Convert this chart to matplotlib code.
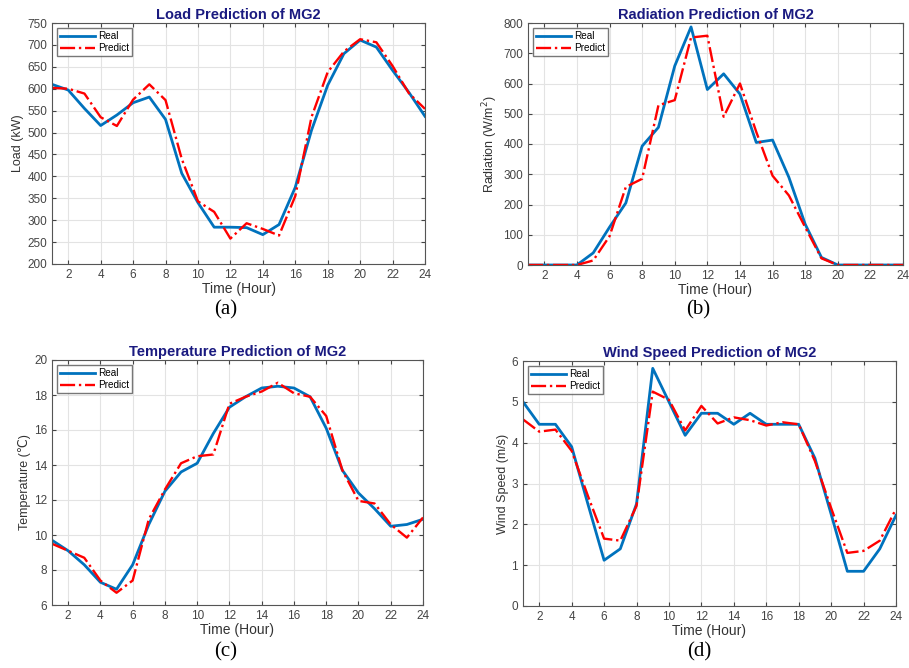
import matplotlib
matplotlib.use("Agg")
import matplotlib.pyplot as plt

plt.rcParams['font.family'] = ['Liberation Sans', 'DejaVu Sans']

hours = list(range(1, 25))

load_real = [610, 597, 555, 516, 540, 568, 581, 530, 407, 340, 284, 284,
             283, 267, 290, 375, 505, 608, 680, 711, 695, 642, 592, 537]
load_pred = [602, 600, 589, 535, 515, 575, 610, 574, 440, 343, 319, 258,
             293, 280, 265, 355, 535, 638, 685, 713, 706, 652, 590, 554]

rad_real = [0, 0, 0, 0, 40, 125, 205, 393, 455, 658, 787, 580,
            632, 565, 405, 413, 290, 135, 25, 0, 0, 0, 0, 0]
rad_pred = [0, 0, 0, 0, 15, 95, 258, 285, 528, 545, 752, 758,
            490, 600, 440, 295, 230, 125, 22, 0, 0, 0, 0, 0]

temp_real = [9.7, 9.1, 8.3, 7.3, 6.9, 8.3, 10.6, 12.5, 13.6, 14.1, 15.8, 17.3,
             17.9, 18.4, 18.5, 18.4, 17.9, 16.1, 13.7, 12.4, 11.5, 10.5, 10.6, 10.9]
temp_pred = [9.5, 9.1, 8.7, 7.4, 6.7, 7.4, 10.9, 12.6, 14.1, 14.5, 14.6, 17.5,
             17.9, 18.2, 18.7, 18.1, 17.9, 16.8, 13.7, 11.95, 11.8, 10.6, 9.85, 11.0]

wind_real = [5.0, 4.45, 4.45, 3.9, 2.5, 1.12, 1.4, 2.5, 5.82, 5.0, 4.18, 4.72,
             4.72, 4.45, 4.72, 4.45, 4.45, 4.45, 3.62, 2.25, 0.85, 0.85, 1.4, 2.22]
wind_pred = [4.57, 4.27, 4.32, 3.8, 2.7, 1.65, 1.6, 2.45, 5.25, 5.05, 4.3, 4.9,
             4.47, 4.62, 4.55, 4.42, 4.5, 4.45, 3.55, 2.4, 1.3, 1.35, 1.6, 2.38]

W, H = 909, 668
fig = plt.figure(figsize=(W / 100, H / 100), dpi=100)

# (left, top, right, bottom) in pixels, plus where the (a)..(d) tag sits
boxes = [(52, 23, 425, 264), (528, 23, 903, 265),
         (52, 360, 423, 605), (523, 361, 896, 606)]
tag_pos = [(226, 310), (698, 310), (226, 652), (699, 652)]
panels = [
    ("Load Prediction of MG2", "Load (kW)", load_real, load_pred, (200, 750), range(200, 751, 50), "(a)"),
    ("Radiation Prediction of MG2", "Radiation (W/m$^2$)", rad_real, rad_pred, (0, 800), range(0, 801, 100), "(b)"),
    ("Temperature Prediction of MG2", "Temperature (\u2103)", temp_real, temp_pred, (6, 20), range(6, 21, 2), "(c)"),
    ("Wind Speed Prediction of MG2", "Wind Speed (m/s)", wind_real, wind_pred, (0, 6), range(0, 7), "(d)"),
]

for (l, t, r, b), (tx, ty), (title, ylab, real, pred, ylim, yt, tag) in zip(boxes, tag_pos, panels):
    ax = fig.add_axes([l / W, 1 - b / H, (r - l) / W, (b - t) / H])
    ax.plot(hours, real, color='#0072BD', lw=2, label='Real')
    ax.plot(hours, pred, color='red', lw=1.7, ls='-.', label='Predict')
    ax.set_xlim(1, 24)
    ax.set_ylim(*ylim)
    ax.set_xticks(range(2, 25, 2))
    ax.set_yticks(list(yt))
    ax.grid(True, color='#e3e3e3', lw=0.8)
    ax.set_axisbelow(True)
    ax.tick_params(direction='in', labelsize=8.5, colors='#444444', length=3,
                   top=True, right=True)
    for s in ax.spines.values():
        s.set_color('#555555')
        s.set_linewidth(0.8)
    ax.set_title(title, color='#1a1a80', fontsize=10.5, fontweight='bold', pad=3)
    ax.set_xlabel("Time (Hour)", fontsize=10, color='#333333', labelpad=1)
    ax.set_ylabel(ylab, fontsize=9, color='#333333', labelpad=2)
    ax.legend(loc='upper left', fontsize=7.2, frameon=True, fancybox=False,
              edgecolor='#555555', handlelength=3.5, borderpad=0.3,
              labelspacing=0.2, handletextpad=0.3)
    fig.text(tx / W, 1 - ty / H, tag, ha='center', va='center',
             fontsize=15, family='Liberation Serif')

fig.savefig("out.png", dpi=100)
